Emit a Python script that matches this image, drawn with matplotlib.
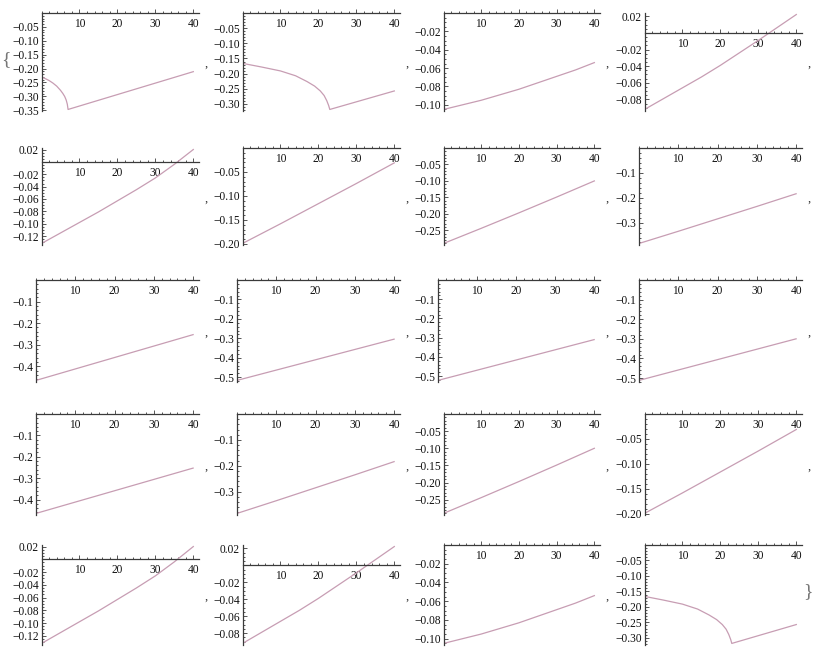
import matplotlib.pyplot as plt
from matplotlib.ticker import MultipleLocator, FuncFormatter

# Curvas (t en el eje x, valor en el eje y)
t_a = [0, 1, 2, 3, 4, 5, 5.6, 6.1, 6.5, 6.8, 7.0, 40]
y_a = [-0.231, -0.236, -0.243, -0.252, -0.263, -0.278, -0.289, -0.300, -0.313, -0.328, -0.347, -0.211]

t_b = [0, 5, 10, 14, 17, 19, 20.5, 21.5, 22.2, 22.7, 23.0, 40]
y_b = [-0.166, -0.178, -0.191, -0.207, -0.226, -0.241, -0.257, -0.272, -0.289, -0.305, -0.318, -0.257]

t_c = [0, 5, 10, 15, 20, 25, 30, 35, 40]
y_c = [-0.105, -0.100, -0.095, -0.089, -0.083, -0.076, -0.069, -0.062, -0.054]

t_d = [0, 5, 10, 15, 20, 25, 30, 35, 40]
y_d = [-0.092, -0.079, -0.066, -0.053, -0.039, -0.024, -0.009, 0.0065, 0.022]

t_e = [0, 5, 10, 15, 20, 25, 30, 35, 40]
y_e = [-0.132, -0.115, -0.098, -0.081, -0.063, -0.045, -0.026, -0.004, 0.020]

t_f = [0, 10, 20, 30, 40]
y_f = [-0.199, -0.158, -0.116, -0.074, -0.031]

t_g = [0, 10, 20, 30, 40]
y_g = [-0.290, -0.244, -0.197, -0.149, -0.100]

t_h = [0, 10, 20, 30, 40]
y_h = [-0.384, -0.335, -0.285, -0.235, -0.184]

t_i = [0, 10, 20, 30, 40]
y_i = [-0.465, -0.412, -0.359, -0.306, -0.253]

t_j = [0, 10, 20, 30, 40]
y_j = [-0.516, -0.463, -0.410, -0.357, -0.304]

t_k = [0, 10, 20, 30, 40]
y_k = [-0.522, -0.469, -0.416, -0.363, -0.310]

t_l = [0, 10, 20, 30, 40]
y_l = [-0.512, -0.459, -0.406, -0.353, -0.300]

# orden de los 20 graficos (fila por fila)
orden_paneles = ["a", "b", "c", "d",
                 "e", "f", "g", "h",
                 "i", "j", "k", "l",
                 "i", "h", "g", "f",
                 "e", "d", "c", "b"]

curvas = {
    "a": (t_a, y_a), "b": (t_b, y_b), "c": (t_c, y_c), "d": (t_d, y_d),
    "e": (t_e, y_e), "f": (t_f, y_f), "g": (t_g, y_g), "h": (t_h, y_h),
    "i": (t_i, y_i), "j": (t_j, y_j), "k": (t_k, y_k), "l": (t_l, y_l),
}

# Disposicion en pixeles
ANCHO, ALTO = 824, 658
col_base = [0, 201, 402, 603]
col_der = [199, 400, 600, 802]
fila_sup = [13, 148, 280, 414, 545]
fila_inf = [111, 245, 382, 515, 645]

COLOR_LINEA = "#c79db3"
COLOR_EJE = "#3a3a3a"
FUENTE = "Liberation Serif"


def formato_y(decimales):
    def f(v, pos):
        if abs(v) < 1e-9:
            return ""
        return f"{v:.{decimales}f}".replace("-", "\u2212")
    return FuncFormatter(f)


fig = plt.figure(figsize=(ANCHO / 100, ALTO / 100), dpi=100)

for n, clave in enumerate(orden_paneles):
    fila, col = divmod(n, 4)
    t, y = curvas[clave]

    y_min = min(y)
    y_max = max(0.0, max(y))
    rango = y_max - y_min

    if rango < 0.17:
        paso, menor, dec = 0.02, 0.005, 2
    elif rango < 0.37:
        paso, menor, dec = 0.05, 0.01, 2
    else:
        paso, menor, dec = 0.1, 0.02, 1

    izq = col_base[col] + (41.5 if dec == 2 else 36)
    der = col_der[col]
    sup = fila_sup[fila]
    inf = fila_inf[fila]

    ax = fig.add_axes([izq / ANCHO, 1 - inf / ALTO,
                       (der - izq) / ANCHO, (inf - sup) / ALTO])
    ax.patch.set_alpha(0)

    ax.plot(t, y, color=COLOR_LINEA, linewidth=0.9)

    pad = 0.016 * rango
    y_top = y_max + pad if max(y) > 0 else 0.0
    ax.set_xlim(0, 41.5)
    ax.set_ylim(y_min - pad, y_top)

    ax.spines["top"].set_visible(False)
    ax.spines["right"].set_visible(False)
    ax.spines["bottom"].set_position(("data", 0))
    ax.spines["left"].set_position(("data", 0))
    for lado in ["bottom", "left"]:
        ax.spines[lado].set_color(COLOR_EJE)
        ax.spines[lado].set_linewidth(0.9)

    ax.set_xticks([10, 20, 30, 40])
    ax.xaxis.set_minor_locator(MultipleLocator(2))
    ax.yaxis.set_major_locator(MultipleLocator(paso))
    ax.yaxis.set_minor_locator(MultipleLocator(menor))
    ax.yaxis.set_major_formatter(formato_y(dec))

    ax.tick_params(which="both", direction="in", color=COLOR_EJE, width=0.6,
                   labelsize=8.3, labelcolor="#111111")
    ax.tick_params(which="major", length=3.2)
    ax.tick_params(which="minor", length=1.6)
    ax.tick_params(axis="x", pad=3.5)
    ax.tick_params(axis="y", pad=2)
    for lab in ax.get_xticklabels() + ax.get_yticklabels():
        lab.set_fontfamily(FUENTE)

    # coma separadora entre graficos
    medio = (sup + inf) / 2
    if n < len(orden_paneles) - 1:
        fig.text((der + 7) / ANCHO, 1 - (medio + 2) / ALTO, ",",
                 fontsize=9, family=FUENTE, color="#333333",
                 ha="center", va="center")

fig.text(6 / ANCHO, 1 - 60 / ALTO, "{", fontsize=14, family=FUENTE,
         color="#777777", ha="center", va="center")
fig.text(808 / ANCHO, 1 - 592 / ALTO, "}", fontsize=14, family=FUENTE,
         color="#777777", ha="center", va="center")

plt.savefig("out.png", dpi=100)
plt.close()
